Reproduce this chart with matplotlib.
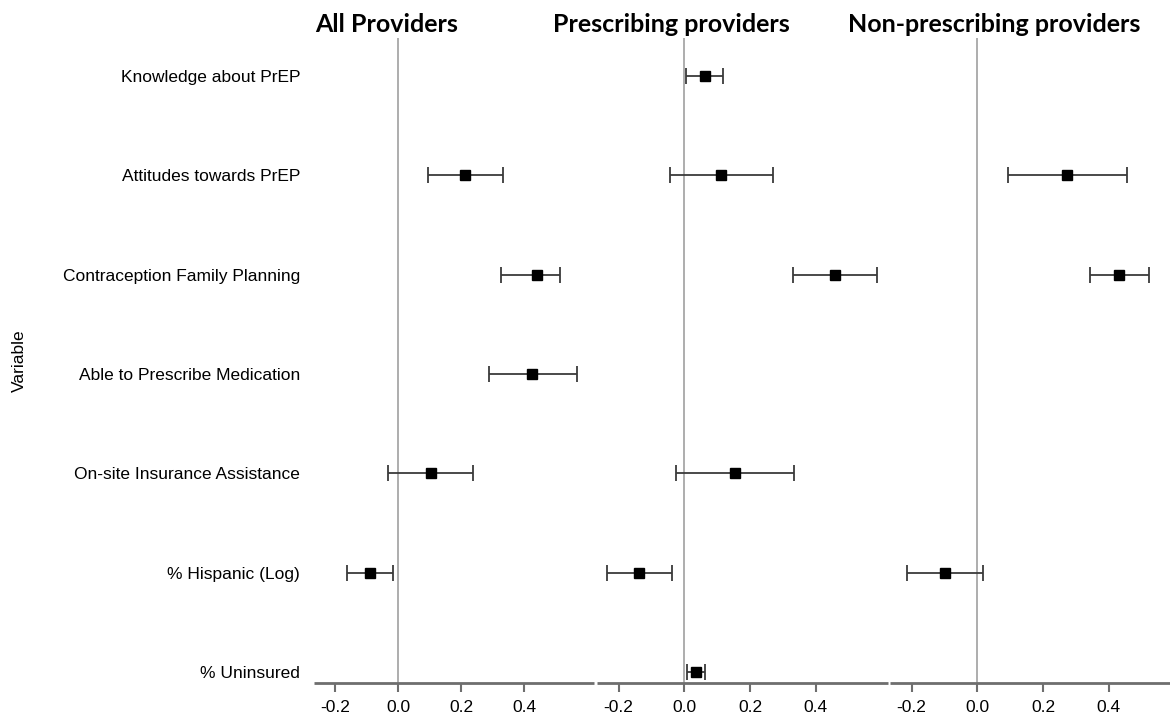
import numpy as np
import matplotlib.pyplot as plt

# variables, top to bottom
variables = ["Knowledge about PrEP", "Attitudes towards PrEP",
             "Contraception Family Planning", "Able to Prescribe Medication",
             "On-site Insurance Assistance", "% Hispanic (Log)", "% Uninsured"]

panel_titles = ["All Providers", "Prescribing providers", "Non-prescribing providers"]

# estimate, lower CI, upper CI  (nan = not in model)
nan = np.nan
all_est = [nan, 0.213, 0.441, 0.425, 0.105, -0.089, nan]
all_lo = [nan, 0.095, 0.327, 0.289, -0.032, -0.162, nan]
all_hi = [nan, 0.333, 0.511, 0.565, 0.238, -0.016, nan]

presc_est = [0.064, 0.112, 0.458, nan, 0.155, -0.139, 0.036]
presc_lo = [0.006, -0.045, 0.330, nan, -0.024, -0.236, 0.009]
presc_hi = [0.118, 0.270, 0.588, nan, 0.333, -0.039, 0.064]

nonpresc_est = [nan, 0.274, 0.432, nan, nan, -0.100, nan]
nonpresc_lo = [nan, 0.094, 0.343, nan, nan, -0.213, nan]
nonpresc_hi = [nan, 0.456, 0.523, nan, nan, 0.018, nan]

xticks = [-0.2, 0.0, 0.2, 0.4]
xtick_labels = ["-0.2", "0.0", "0.2", "0.4"]

panels = [(all_est, all_lo, all_hi),
          (presc_est, presc_lo, presc_hi),
          (nonpresc_est, nonpresc_lo, nonpresc_hi)]

plt.rcParams['font.family'] = ['Liberation Sans', 'DejaVu Sans']

W, H = 1170, 721
fig = plt.figure(figsize=(W / 100, H / 100), dpi=100)

# panel extents in pixels (left, right); last one runs off the edge
extents = [(314, 594), (597, 888), (890, 1181)]
top_px, bot_px = 38, 683
title_x = [315, 553, 848]

ypos = np.arange(len(variables))
axes = []
for i, ((l, r), (est, lo, hi)) in enumerate(zip(extents, panels)):
    ax = fig.add_axes([l / W, 1 - bot_px / H, (r - l) / W, (bot_px - top_px) / H])
    axes.append(ax)
    est = np.array(est)
    lo = np.array(lo)
    hi = np.array(hi)
    ok = ~np.isnan(est)
    ax.axvline(0, color="#a0a0a0", lw=1.2, zorder=1)
    ax.errorbar(est[ok], ypos[ok], xerr=[est[ok] - lo[ok], hi[ok] - est[ok]],
                fmt="s", color="black", ms=7, ecolor="#3a3a3a",
                elinewidth=1.3, capsize=6, capthick=1.3, zorder=3)
    ax.set_xlim(-0.266, 0.62)
    ax.set_ylim(6.11, -0.38)
    for s in ["top", "right", "left"]:
        ax.spines[s].set_visible(False)
    ax.spines["bottom"].set_color("#6e6e6e")
    ax.spines["bottom"].set_linewidth(2)
    ax.spines["bottom"].set_capstyle("butt")
    ax.set_xticks(xticks)
    ax.set_xticklabels(xtick_labels)
    ax.tick_params(axis="x", length=6.5, width=1.5, color="#6e6e6e",
                   labelsize=12.5, pad=6)
    if i == 0:
        ax.set_yticks(ypos)
        ax.set_yticklabels(variables)
        ax.tick_params(axis="y", length=0, labelsize=12.5, pad=10)
        ax.set_ylabel("Variable", fontsize=12.5)
    else:
        ax.set_yticks([])
    fig.text(title_x[i] / W, 1 - 25 / H, panel_titles[i], ha="left", va="center",
             fontsize=18, fontweight="bold", family="Lato")

axes[0].yaxis.set_label_coords(-(314 - 27) / (extents[0][1] - extents[0][0]), 0.5)

fig.savefig("out.png", dpi=100)
